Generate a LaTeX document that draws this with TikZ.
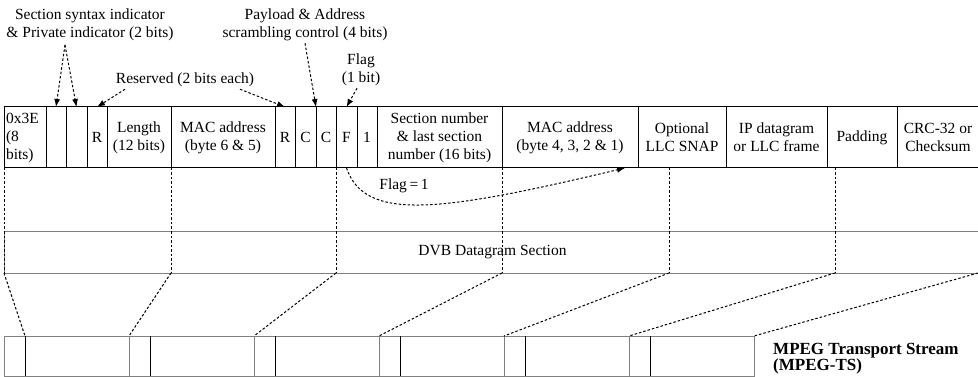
\documentclass[tikz,border=0pt]{standalone}
\usepackage{fontspec}
\setmainfont{Liberation Serif}
\usetikzlibrary{arrows.meta,positioning}
\definecolor{tsgray}{RGB}{128,128,128}

\begin{document}
\begin{tikzpicture}[x=1pt,y=-1pt,>={Latex[length=8pt,width=6pt]},
    font=\fontsize{15.5}{18}\selectfont,
    field/.style={draw,line width=1pt,minimum height=61pt,inner sep=0pt,outer sep=0pt,align=center},
    pkt/.style={draw=tsgray,line width=1pt,minimum height=40pt,inner sep=0pt,outer sep=0pt},
    note/.style={align=center,inner sep=2pt},
    guide/.style={line width=1pt,dash pattern=on 2.5pt off 2pt},
    hint/.style={guide,->}]
  \useasboundingbox (0,0) rectangle (978,377);
  \clip (0,0) rectangle (978,377);
  % header fields of the DVB datagram section
  \node[field,minimum width=42pt,text width=38pt,align=left,anchor=north west] (tid) at (4,107) {0x3E\\(8\\bits)};
  \node[field,minimum width=20pt,right=0pt of tid] (ssi) {};
  \node[field,minimum width=21pt,right=0pt of ssi] (pi) {};
  \node[field,minimum width=20pt,right=0pt of pi] (rsv1) {R};
  \node[field,minimum width=64pt,right=0pt of rsv1] (len) {Length\\(12 bits)};
  \node[field,minimum width=104pt,right=0pt of len] (mac65) {MAC address\\(byte 6 \& 5)};
  \node[field,minimum width=20pt,right=0pt of mac65] (rsv2) {R};
  \node[field,minimum width=21pt,right=0pt of rsv2] (pc) {C};
  \node[field,minimum width=20pt,right=0pt of pc] (ac) {C};
  \node[field,minimum width=21pt,right=0pt of ac] (flag) {F};
  \node[field,minimum width=20pt,right=0pt of flag] (one) {1};
  \node[field,minimum width=125pt,right=0pt of one] (secnum) {Section number\\\& last section\\number (16 bits)};
  \node[field,minimum width=136pt,right=0pt of secnum] (mac41) {MAC address\\(byte 4, 3, 2 \& 1)};
  \node[field,minimum width=88pt,right=0pt of mac41] (llc) {Optional\\LLC SNAP};
  \node[field,minimum width=101pt,right=0pt of llc] (ip) {IP datagram\\or LLC frame};
  \node[field,minimum width=70pt,right=0pt of ip] (pad) {Padding};
  \node[field,minimum width=82pt,right=0pt of pad] (crc) {CRC-32 or\\Checksum};

  \node[note] (ssilbl) at (90,25) {Section syntax indicator\\\& Private indicator (2 bits)};
  \node[note] (scrlbl) at (305,25) {Payload \& Address\\scrambling control (4 bits)};
  \node[note] (flaglbl) at (361,70) {Flag\\(1 bit)};
  \node[note] (rsvlbl) at (185,80) {Reserved (2 bits each)};
  \coordinate (ssifoot) at (65,45);
  \draw[hint] (ssifoot) -- (ssi.north);
  \draw[hint] (ssifoot) -- (pi.north);
  \draw[hint] (scrlbl.south) -- (pc.north east);
  \draw[hint] ([xshift=-4pt]flaglbl.south) -- (flag.north);
  \draw[hint] ([xshift=-60pt]rsvlbl.south) -- (rsv1.north);
  \draw[hint] ([xshift=55pt]rsvlbl.south) -- (rsv2.north);

  \draw[hint] (flag.south) .. controls (365,222) and (440,212) .. ([xshift=-13pt]mac41.south east);
  \node (flagone) at (404,186) {Flag\,=\,1};

  \node[draw=tsgray,line width=1pt,minimum width=976pt,minimum height=42pt,inner sep=0pt,anchor=north west] (dvb) at (4,231) {DVB Datagram Section};

  % MPEG-TS packets
  \foreach \i in {1,...,6} {
    \node[pkt,minimum width=21pt,anchor=north west] (h\i) at ({4+125*(\i-1)},336) {};
    \node[pkt,minimum width=104pt,right=0pt of h\i] (p\i) {};
    \draw[line width=1pt] (h\i.north east) -- (h\i.south east);
  }
  \node[anchor=west,align=left,inner sep=0pt,font=\fontsize{17}{16}\selectfont\bfseries] (tslbl) at (773,359) {MPEG Transport Stream\\(MPEG-TS)};

  \foreach \x [count=\i] in {4,171,336,502,669,835} {
    \coordinate (up\i) at (\x,168);
    \coordinate (dn\i) at (\x,273);
    \draw[guide] (up\i) -- (dn\i);
  }
  \coordinate (dn7) at (978,273);
  \draw[guide] (dn1) -- (h1.north east);
  \foreach \i in {2,...,6} \draw[guide] (dn\i) -- (h\i.north west);
  \draw[guide] (dn7) -- (p6.north east);
\end{tikzpicture}
\end{document}
